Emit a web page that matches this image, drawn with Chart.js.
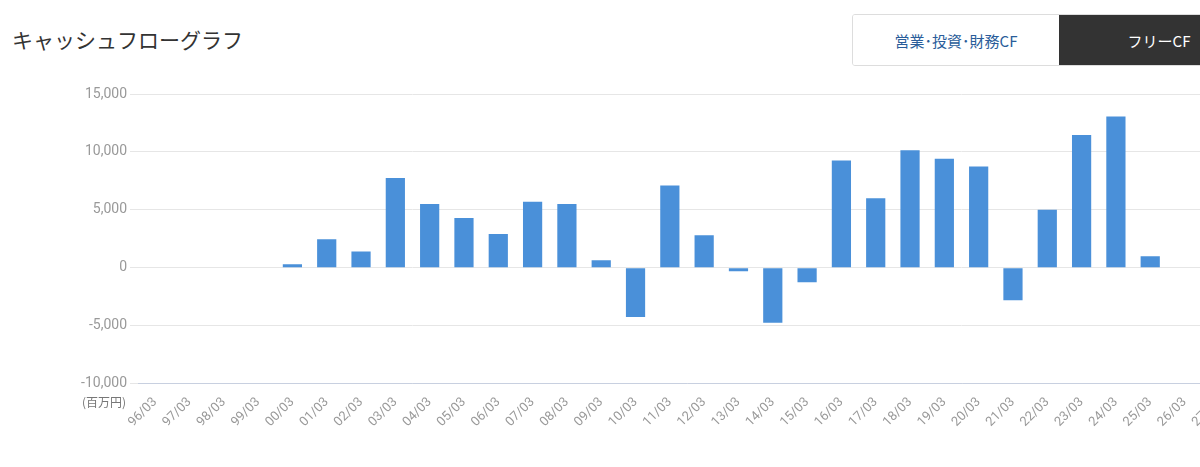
<!DOCTYPE html>
<html><head><meta charset="utf-8">
<script src="https://cdn.jsdelivr.net/npm/chart.js@4"></script>
<style>
body{margin:0;width:1200px;height:467px;overflow:hidden;background:#fff;font-family:"Noto Sans CJK JP",Roboto,sans-serif;position:relative}
#title{position:absolute;left:12px;top:24px;font-size:21px;color:#333}
#btns{position:absolute;left:852px;top:14px;height:50px;display:flex;border:1px solid #ddd;border-radius:3px;overflow:hidden}
#b1{width:206px;background:#fff;color:#2a5d9a;font-size:15px;display:flex;align-items:center;justify-content:center}
#b2{width:200px;background:#333;color:#fff;font-size:15px;display:flex;align-items:center;justify-content:center}
#unit{position:absolute;left:82px;top:393px;font-size:12px;color:#777}
#wrap{position:absolute;left:0;top:80px;width:1236px;height:387px}
</style></head><body>
<div id="title">キャッシュフローグラフ</div>
<div id="btns"><div id="b1">営業･投資･財務CF</div><div id="b2">フリーCF</div></div>
<div id="wrap"><canvas id="c"></canvas></div>
<div id="unit">(百万円)</div>
<script>
const categories=["96/03","97/03","98/03","99/03","00/03","01/03","02/03","03/03","04/03","05/03","06/03","07/03","08/03","09/03","10/03","11/03","12/03","13/03","14/03","15/03","16/03","17/03","18/03","19/03","20/03","21/03","22/03","23/03","24/03","25/03","26/03","27/03"];
const freeCF=[null,null,null,null,300,2450,1400,7750,5500,4300,2900,5700,5500,650,-4250,7100,2800,-300,-4750,-1250,9250,6000,10150,9400,8750,-2800,5000,11450,13050,1000,null,null];
const yTicks=[-10000,-5000,0,5000,10000,15000];
new Chart(document.getElementById('c'),{type:'bar',
data:{labels:categories,datasets:[{data:freeCF,backgroundColor:'#4a90d9',categoryPercentage:0.8,barPercentage:0.7}]},
options:{responsive:true,maintainAspectRatio:false,animation:false,
layout:{padding:{left:0,top:14,right:0,bottom:34}},
plugins:{legend:{display:false},tooltip:{enabled:false}},
scales:{
x:{grid:{display:false},border:{color:'#c8d0e0'},ticks:{color:'#999',font:{size:13,family:'Roboto'},maxRotation:45,minRotation:45,autoSkip:false}},
y:{min:-10000,max:15000,afterBuildTicks:a=>{a.ticks=yTicks.map(v=>({value:v}))},afterFit:a=>{a.width=138},
grid:{color:'#e6e6e6'},border:{display:false},
ticks:{color:'#999',font:{size:14,family:'Roboto'},callback:v=>v.toLocaleString('en-US')}}}}});
</script></body></html>
